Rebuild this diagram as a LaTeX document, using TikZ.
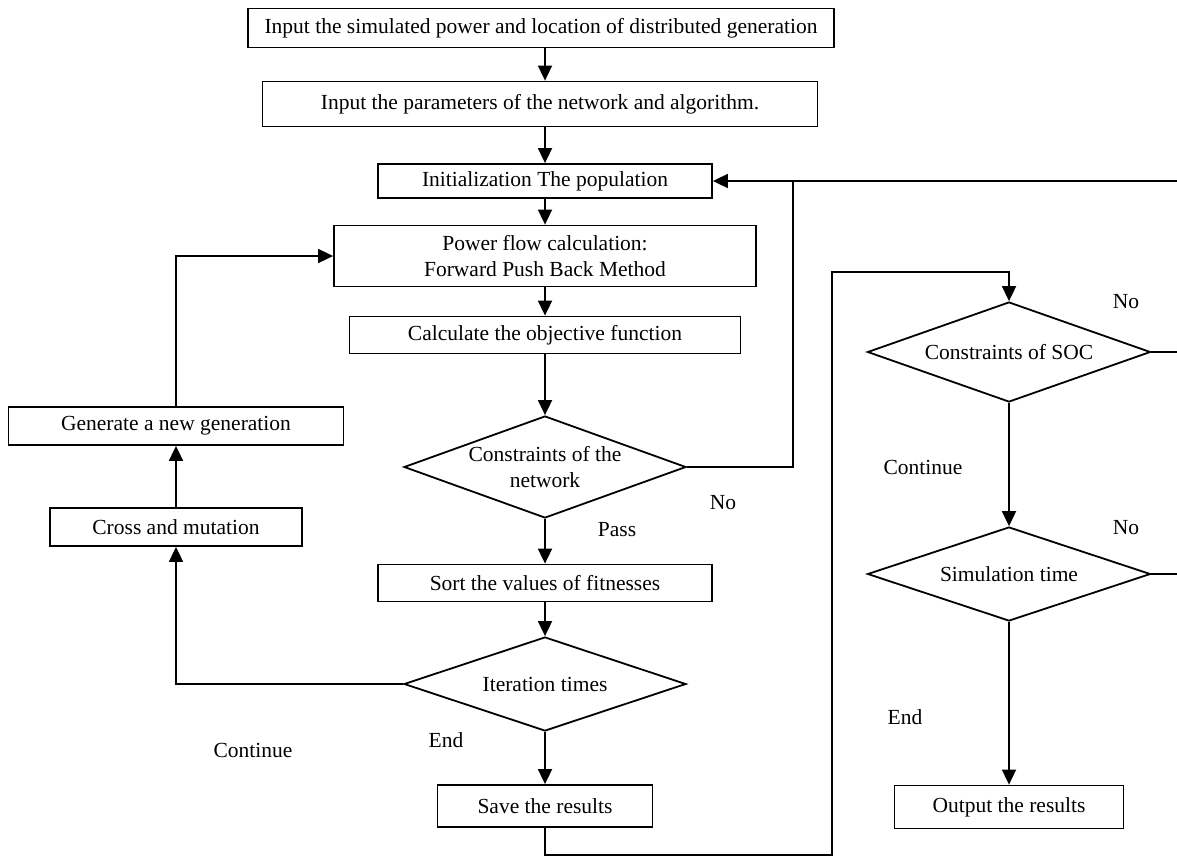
\documentclass[tikz,border=0pt]{standalone}
\usepackage{fontspec}
\setmainfont{Liberation Serif}
\usetikzlibrary{arrows.meta,shapes.geometric,positioning}
\tikzset{
  >={Triangle[length=15pt,width=14pt]},
  flowline/.style={draw, line width=1.8pt, line join=miter},
  box/.style={
    rectangle,
    draw=black, line width=1.8pt,
    align=center,
    inner sep=2pt},
  decision/.style={
    diamond,
    draw=black, line width=1.8pt,
    aspect=2.8,
    inner sep=1pt,
    align=center},
  tag/.style={inner sep=0pt},
}
\begin{document}
\begin{tikzpicture}[x=1pt, y=-1pt, font=\fontsize{21.5}{26}\selectfont]
  \useasboundingbox (0,0) rectangle (1177,857);
  % main column
  \node[box, minimum width=586pt, minimum height=39pt] (inDG) at (541,28)
      {Input the simulated power and location of distributed generation};
  \node[box, minimum width=555pt, minimum height=45pt] (inPar) at (540,104)
      {Input the parameters of the network and algorithm.};
  \node[box, minimum width=334pt, minimum height=34pt] (init) at (545,181)
      {Initialization The population};
  \node[box, minimum width=422pt, minimum height=61pt] (pflow) at (545,256)
      {Power flow calculation:\\Forward Push Back Method};
  \node[box, minimum width=391pt, minimum height=37pt] (objfn) at (545,335)
      {Calculate the objective function};
  \node[decision, minimum width=282pt, minimum height=102pt] (cnet) at (545,467)
      {Constraints of the\\network};
  \node[box, minimum width=334pt, minimum height=37pt] (sortfit) at (545,583)
      {Sort the values of fitnesses};
  \node[decision, minimum width=282pt, minimum height=94pt] (iter) at (545,684)
      {Iteration times};
  \node[box, minimum width=215pt, minimum height=42pt] (save) at (545,806)
      {Save the results};
  % left branch
  \node[box, minimum width=335pt, minimum height=38pt] (newgen) at (176,426)
      {Generate a new generation};
  \node[box, minimum width=252pt, minimum height=38pt] (cross) at (176,527)
      {Cross and mutation};
  % right column
  \node[decision, minimum width=283pt, minimum height=100pt] (soc) at (1009,352)
      {Constraints of SOC};
  \node[decision, minimum width=283pt, minimum height=94pt] (simt) at (1009,574)
      {Simulation time};
  \node[box, minimum width=229pt, minimum height=43pt] (output) at (1009,807)
      {Output the results};

  % turning points of the loops
  \coordinate (netR) at (793,181);
  \coordinate (loopB) at (832,855);
  \coordinate (loopT) at (832,272);
  \coordinate (edgeT) at (1186,181);
  \coordinate (edgeS) at (1186,352);
  \coordinate (edgeM) at (1186,574);

  % straight down, all on the column line of (init)
  \draw[flowline, ->] (inDG.south -| init) -- (inPar.north -| init);
  \draw[flowline, ->] (inPar.south -| init) -- (init);
  \draw[flowline, ->] (init) -- (pflow);
  \draw[flowline, ->] (pflow) -- (objfn);
  \draw[flowline, ->] (objfn) -- (cnet);
  \draw[flowline, ->] (cnet) -- (sortfit);
  \draw[flowline, ->] (sortfit) -- (iter);
  \draw[flowline, ->] (iter) -- (save);
  % GA loop on the left
  \draw[flowline, ->] (iter.west) -| (cross.south);
  \draw[flowline, ->] (cross) -- (newgen);
  \draw[flowline, ->] (newgen.north) |- (pflow.west);
  % back to the population
  \draw[flowline] (cnet.east) -| (netR);
  \draw[flowline, ->] (edgeT) -- (init.east);
  % on to the storage checks
  \draw[flowline, ->] (save.south) |- (loopB) -- (loopT) -| (soc.north);
  \draw[flowline, ->] (soc) -- (simt);
  \draw[flowline, ->] (simt) -- (output);
  \draw[flowline] (soc.east) -- (edgeS);
  \draw[flowline] (simt.east) -- (edgeM) -- (edgeT);

  % branch labels
  \node[tag] (lNoNet) at (723,503) {No};
  \node[tag] (lPass) at (617,530) {Pass};
  \node[tag] (lCont) at (253,750) {Continue};
  \node[tag] (lEnd) at (446,740) {End};
  \node[tag] (lNoSoc) at (1126,302) {No};
  \node[tag] (lContSoc) at (923,467) {Continue};
  \node[tag] (lNoSim) at (1126,528) {No};
  \node[tag] (lEndSim) at (905,717) {End};
\end{tikzpicture}
\end{document}
